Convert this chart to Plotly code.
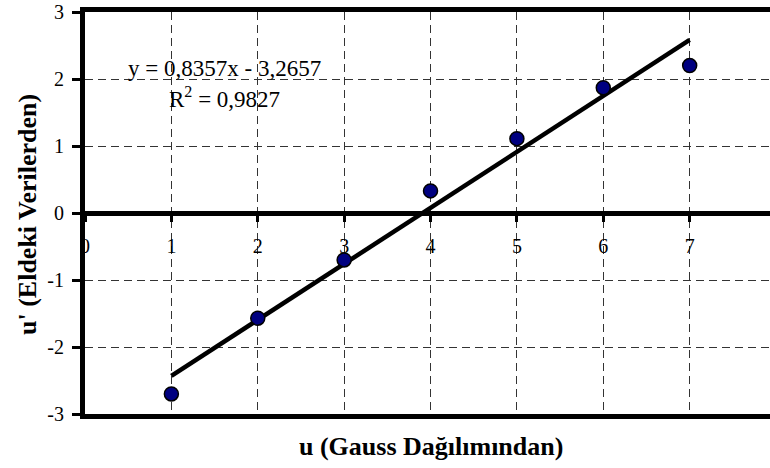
import plotly.graph_objects as go

# Data
u_gauss = [1, 2, 3, 4, 5, 6, 7]
u_data = [-2.70, -1.57, -0.70, 0.33, 1.11, 1.87, 2.20]
slope = 0.8357
intercept = -3.2657
eq_text = "y = 0,8357x - 3,2657"
r2_text = "R<sup>2</sup> = 0,9827"
x_ticks = [0, 1, 2, 3, 4, 5, 6, 7]
y_ticks = [-3, -2, -1, 0, 1, 2, 3]
y_ticktext = ["-3", "-2", "-1", "0", "1", "2", "3"]
x_title = "u (Gauss Dağılımından)"
y_title = "u' (Eldeki Verilerden)"

FONT = "Liberation Serif, Times New Roman, serif"

trend_x = [u_gauss[0], u_gauss[-1]]
trend_y = [slope * v + intercept for v in trend_x]

fig = go.Figure()
fig.add_trace(go.Scatter(
    x=trend_x, y=trend_y, mode="lines",
    line=dict(color="black", width=4.5), showlegend=False, hoverinfo="skip"))
fig.add_trace(go.Scatter(
    x=u_gauss, y=u_data, mode="markers",
    marker=dict(color="#000080", size=14, line=dict(color="black", width=1.5)),
    showlegend=False))
# invisible trace for the secondary x axis (tick labels along y=0)
fig.add_trace(go.Scatter(x=[0], y=[0], xaxis="x2", mode="markers",
                         marker=dict(opacity=0), showlegend=False, hoverinfo="skip"))

L, R, T, B = 85, 0, 12, 54
W, H = 770, 468
pw, ph = W - L - R, H - T - B

xr = [0, 7.93]
fig.update_layout(
    width=W, height=H,
    margin=dict(l=L, r=R, t=T, b=B),
    paper_bgcolor="white", plot_bgcolor="white",
    font=dict(family=FONT, color="black", size=20),
    xaxis=dict(range=xr, tickvals=x_ticks, showticklabels=False,
               showgrid=True, gridcolor="#333", gridwidth=1, griddash="8px,5px",
               zeroline=False, showline=True, linecolor="black", linewidth=5,
               mirror=True, ticks=""),
    xaxis2=dict(range=xr, overlaying="x", anchor="free", position=0.5, side="bottom",
                tickvals=x_ticks, ticktext=[str(v) for v in x_ticks],
                ticks="outside", ticklen=8, tickwidth=3, tickcolor="black",
                ticklabelstandoff=7,
                showgrid=False, zeroline=False, showline=False,
                tickfont=dict(size=20, family=FONT)),
    yaxis=dict(range=[-3, 3], tickvals=y_ticks, ticktext=y_ticktext,
               ticks="outside", ticklen=8, tickwidth=3, tickcolor="black",
               ticklabelstandoff=4,
               showgrid=True, gridcolor="#333", gridwidth=1, griddash="8px,5px",
               zeroline=True, zerolinecolor="black", zerolinewidth=5,
               showline=True, linecolor="black", linewidth=5,
               tickfont=dict(size=20, family=FONT)),
    annotations=[
        dict(x=1.61, y=2.15, xref="x", yref="y", text=eq_text, showarrow=False,
             font=dict(size=23, family=FONT)),
        dict(x=1.61, y=1.72, xref="x", yref="y", text=r2_text, showarrow=False,
             font=dict(size=23, family=FONT)),
        dict(x=(431 - L) / pw, y=(H - B - 447) / ph, xref="paper", yref="paper",
             text="<b>" + x_title + "</b>", showarrow=False,
             xanchor="center", yanchor="middle",
             font=dict(size=26, family=FONT)),
        dict(x=(27 - L) / pw, y=(H - B - 215) / ph, xref="paper", yref="paper",
             text="<b>" + y_title + "</b>", showarrow=False, textangle=-90,
             xanchor="center", yanchor="middle",
             font=dict(size=26, family=FONT)),
    ],
)

fig.write_html("out.html")
